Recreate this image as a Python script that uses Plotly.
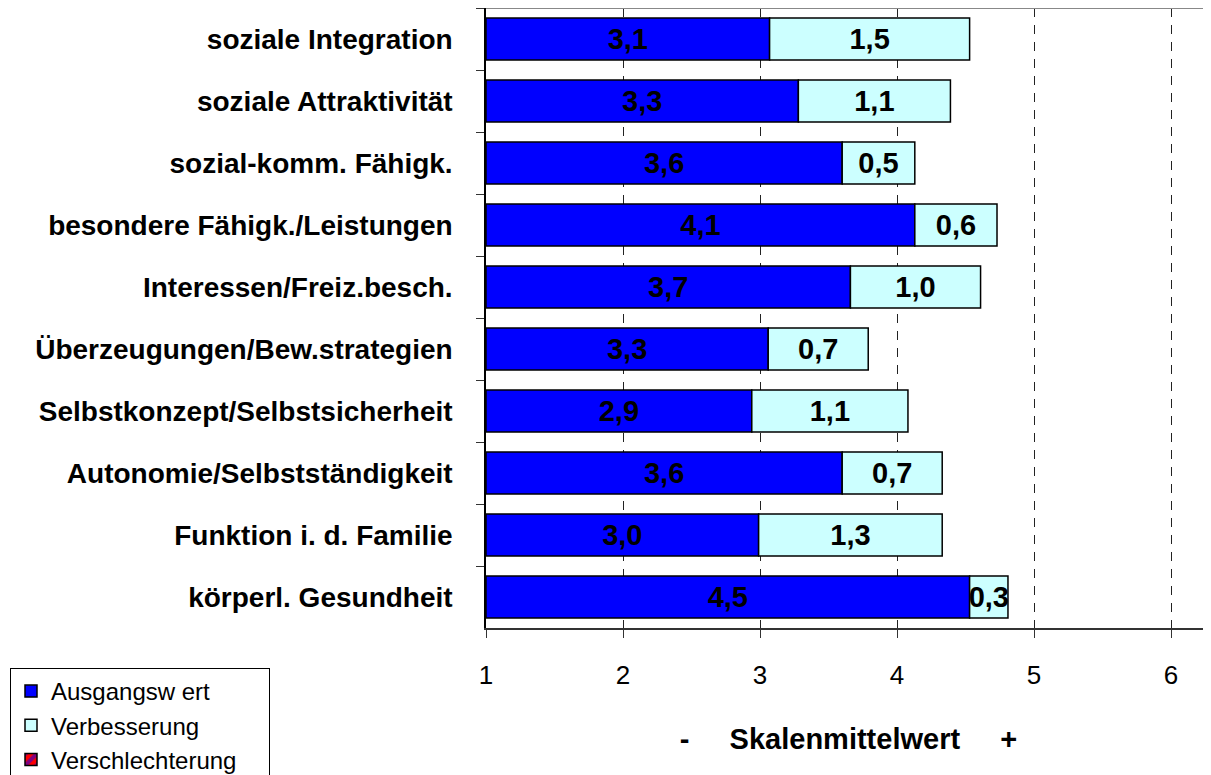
import plotly.graph_objects as go

categories = ["soziale Integration", "soziale Attraktivität", "sozial-komm. Fähigk.",
              "besondere Fähigk./Leistungen", "Interessen/Freiz.besch.",
              "Überzeugungen/Bew.strategien", "Selbstkonzept/Selbstsicherheit",
              "Autonomie/Selbstständigkeit", "Funktion i. d. Familie", "körperl. Gesundheit"]
ausgangswert = [3.07, 3.28, 3.60, 4.13, 3.66, 3.06, 2.94, 3.60, 2.99, 4.53]
verbesserung = [1.46, 1.11, 0.53, 0.60, 0.95, 0.73, 1.14, 0.73, 1.34, 0.28]
ausgang_labels = ["3,1", "3,3", "3,6", "4,1", "3,7", "3,3", "2,9", "3,6", "3,0", "4,5"]
verb_labels = ["1,5", "1,1", "0,5", "0,6", "1,0", "0,7", "1,1", "0,7", "1,3", "0,3"]
legend_names = ["Ausgangsw ert", "Verbesserung", "Verschlechterung"]
x_ticks = [1, 2, 3, 4, 5, 6]
scale_min = 1
scale_max = 6.292

FONT = "Arial, Liberation Sans, sans-serif"
label_font = dict(family=FONT, size=29, color="black", weight="bold")

# page has an 8px body margin: figure is sized to fit the 1211x775 window
W, H = 1203, 767
L, R, T, B = 478, 0, 0, 147
pw, ph = W - L - R, H - T - B
PAD = "\u00a0" * 4  # invisible padding to widen the legend box

fig = go.Figure()
fig.add_trace(go.Bar(
    name=legend_names[0], orientation="h", y=categories,
    x=[v - scale_min for v in ausgangswert], base=scale_min,
    marker=dict(color="#0000FF", line=dict(color="black", width=1.5)),
    text=ausgang_labels, textposition="inside", insidetextanchor="middle",
    textangle=0, constraintext="none", textfont=label_font,
))
fig.add_trace(go.Bar(
    name=legend_names[1], orientation="h", y=categories,
    x=verbesserung, base=ausgangswert,
    marker=dict(color="#CCFFFF", line=dict(color="black", width=1.5)),
    text=verb_labels, textposition="inside", insidetextanchor="middle",
    textangle=0, constraintext="none", textfont=label_font,
))
fig.add_trace(go.Bar(
    name=legend_names[2] + PAD, orientation="h", y=[None], x=[None],
    marker=dict(color="#FF0000", line=dict(color="black", width=1.5),
                pattern=dict(shape="/", fgcolor="#0000FF", bgcolor="#FF0000",
                             size=14, solidity=0.5)),
))

fig.update_layout(
    width=W, height=H,
    margin=dict(l=L, r=R, t=T, b=B, autoexpand=False),
    paper_bgcolor="white", plot_bgcolor="white",
    barmode="overlay", bargap=0.32,
    showlegend=True,
    legend=dict(
        x=(2 - L) / pw, y=(ph - 660) / ph, xanchor="left", yanchor="top",
        bgcolor="white", bordercolor="black", borderwidth=1,
        font=dict(family=FONT, size=24, color="black"),
        traceorder="normal", itemwidth=30, tracegroupgap=0,
    ),
    xaxis=dict(
        range=[scale_min, scale_max], tickmode="array", tickvals=x_ticks,
        ticktext=[str(t) for t in x_ticks],
        showgrid=True, gridcolor="#222222", gridwidth=1, griddash="9px,8px",
        showline=True, linecolor="#333333", linewidth=1.5,
        ticks="outside", ticklen=8, tickcolor="#333333", tickwidth=1,
        tickfont=dict(family=FONT, size=26, color="black"),
        ticklabelstandoff=15, zeroline=False, automargin=False,
        title=dict(text="-\u00a0\u00a0\u00a0\u00a0\u00a0Skalenmittelwert\u00a0\u00a0\u00a0\u00a0\u00a0+",
                   font=dict(family=FONT, size=29, color="black", weight="bold"),
                   standoff=40),
    ),
    yaxis=dict(
        autorange="reversed", type="category", categoryorder="array",
        categoryarray=categories,
        showline=True, linecolor="black", linewidth=1.5,
        ticks="outside", ticklen=8, tickson="boundaries", tickcolor="#333333",
        tickfont=dict(family=FONT, size=28, color="black", weight="bold"),
        ticklabelstandoff=26, showgrid=False, automargin=False,
    ),
    shapes=[dict(type="line", xref="paper", yref="paper", x0=0, x1=1, y0=1, y1=1,
                 line=dict(color="#888888", width=2), layer="above")],
)

fig.write_html("out.html")
